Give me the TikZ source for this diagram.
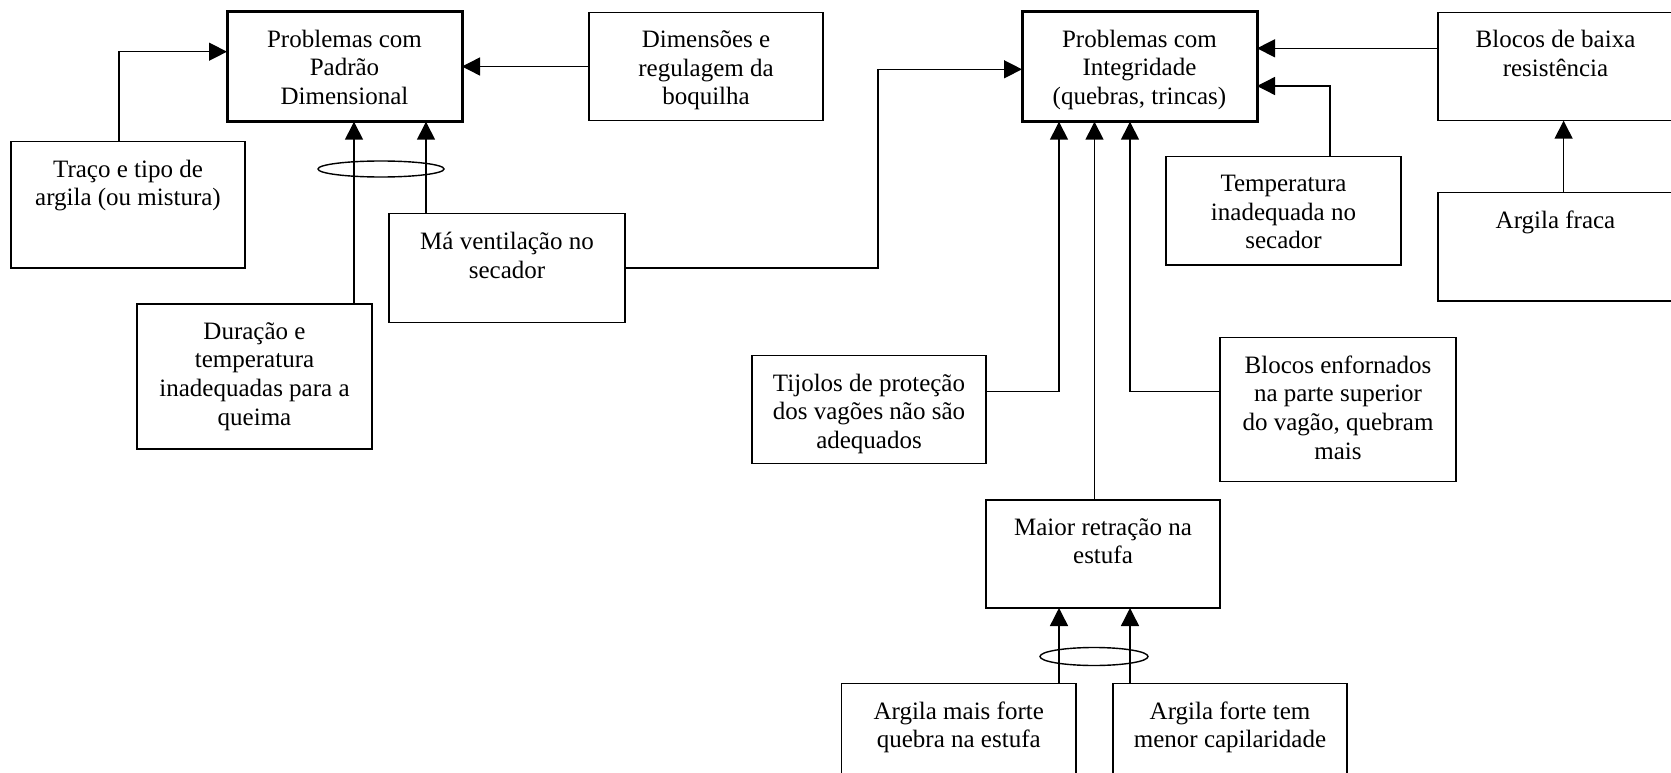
\documentclass[tikz,border=0pt]{standalone}
\usepackage{fontspec}
\setmainfont{Liberation Serif}
\usetikzlibrary{arrows.meta,shapes.geometric}
\begin{document}
\begin{tikzpicture}[x=1pt,y=-1pt,
  boxshape/.style={draw, line width=1.4pt, rectangle, inner sep=0pt, outer sep=0pt,
    anchor=north west, minimum width=235pt},
  mainbox/.style={boxshape, line width=3pt},
  txt/.style={font=\fontsize{25}{28.75}\selectfont, align=center, inner sep=0pt, anchor=north},
  link/.style={line width=1.4pt, -{Triangle[length=18pt,width=18pt]}},
  ring/.style={draw, ellipse, line width=1.4pt, inner sep=0pt}]
\useasboundingbox (0,0) rectangle (1671,773);
\clip (0,0) rectangle (1671,773);

% --- left cluster: dimensional pattern ---
\node[mainbox, minimum height=110pt] (pd) at (227,11.7) {};
\node[txt] (pdt) at ([yshift=-18pt]pd.north) {Problemas com\\Padrão\\Dimensional};

\node[boxshape, minimum width=234pt, minimum height=108.4pt] (dim) at (589,12.3) {};
\node[txt] (dimt) at ([yshift=-18pt]dim.north) {Dimensões e\\regulagem da\\boquilha};

\node[boxshape, minimum width=234pt, minimum height=126.3pt] (traco) at (11,141.7) {};
\node[txt] (tracot) at ([yshift=-18pt]traco.north) {Traço e tipo de\\argila (ou mistura)};

\node[boxshape, minimum height=145pt] (dur) at (137,304) {};
\node[txt] (durt) at ([yshift=-18pt]dur.north) {Duração e\\temperatura\\inadequadas para a\\queima};

\node[boxshape, minimum width=236pt, minimum height=108.6pt] (ma) at (389,213.7) {};
\node[txt] (mat) at ([yshift=-18pt]ma.north) {Má ventilação no\\secador};

% --- right cluster: integrity ---
\node[mainbox, minimum height=110pt] (pi) at (1022,11.7) {};
\node[txt] (pit) at ([yshift=-18pt]pi.north) {Problemas com\\Integridade\\(quebras, trincas)};

\node[boxshape, minimum height=108.4pt] (bb) at (1438,12.3) {};
\node[txt] (bbt) at ([yshift=-18pt]bb.north) {Blocos de baixa\\resistência};

\node[boxshape, minimum height=108.3pt] (temp) at (1166,156.7) {};
\node[txt] (tempt) at ([yshift=-18pt]temp.north) {Temperatura\\inadequada no\\secador};

\node[boxshape, minimum height=108.3pt] (af) at (1438,192.7) {};
\node[txt] (aft0) at ([yshift=-18pt]af.north) {Argila fraca};

\node[boxshape, minimum width=234pt, minimum height=107.6pt] (tij) at (752,355.7) {};
\node[txt] (tijt) at ([yshift=-18pt]tij.north) {Tijolos de proteção\\dos vagões não são\\adequados};

\node[boxshape, minimum width=236pt, minimum height=144.4pt] (be) at (1220,337.3) {};
\node[txt] (bet) at ([yshift=-18pt]be.north) {Blocos enfornados\\na parte superior\\do vagão, quebram\\mais};

\node[boxshape, minimum width=234pt, minimum height=108pt] (mr) at (986,500) {};
\node[txt] (mrt) at ([yshift=-18pt]mr.north) {Maior retração na\\estufa};

\node[boxshape, minimum width=234.5pt, minimum height=120pt] (amf) at (841.5,683.3) {};
\node[txt] (amft) at ([yshift=-18pt]amf.north) {Argila mais forte\\quebra na estufa};

\node[boxshape, minimum width=234pt, minimum height=120pt] (aft) at (1113,683.3) {};
\node[txt] (aftt) at ([yshift=-18pt]aft.north) {Argila forte tem\\menor capilaridade};

% --- connectors ---
\draw[link] (119,0 |- traco.north) |- (pd.west |- 0,51.7);
\draw[link] (dim.west) -- (dim.west -| pd.east);
\draw[link] (354,0 |- dur.north) -- (354,0 |- pd.south);
\draw[link] (426,0 |- ma.north) -- (426,0 |- pd.south);
\node[ring, minimum width=126pt, minimum height=16pt] (g1) at (381,169) {};

\draw[link] (ma.east |- 0,268) -| (878,69.3) -- (pi.west |- 0,69.3);
\draw[link] (bb.west |- 0,48.3) -- (pi.east |- 0,48.3);
\draw[link] (1330,0 |- temp.north) |- (pi.east |- 0,86);
\draw[link] (1563.6,0 |- af.north) -- (1563.6,0 |- bb.south);
\draw[link] (tij.east |- 0,391.7) -| (1059,0 |- pi.south);
\draw[link] (1094.5,0 |- mr.north) -- (1094.5,0 |- pi.south);
\draw[link] (be.west |- 0,391.7) -| (1130,0 |- pi.south);
\draw[link] (1059,0 |- amf.north) -- (1059,0 |- mr.south);
\draw[link] (1130,0 |- aft.north) -- (1130,0 |- mr.south);
\node[ring, minimum width=108pt, minimum height=18pt] (g2) at (1094,656.5) {};
\end{tikzpicture}
\end{document}
